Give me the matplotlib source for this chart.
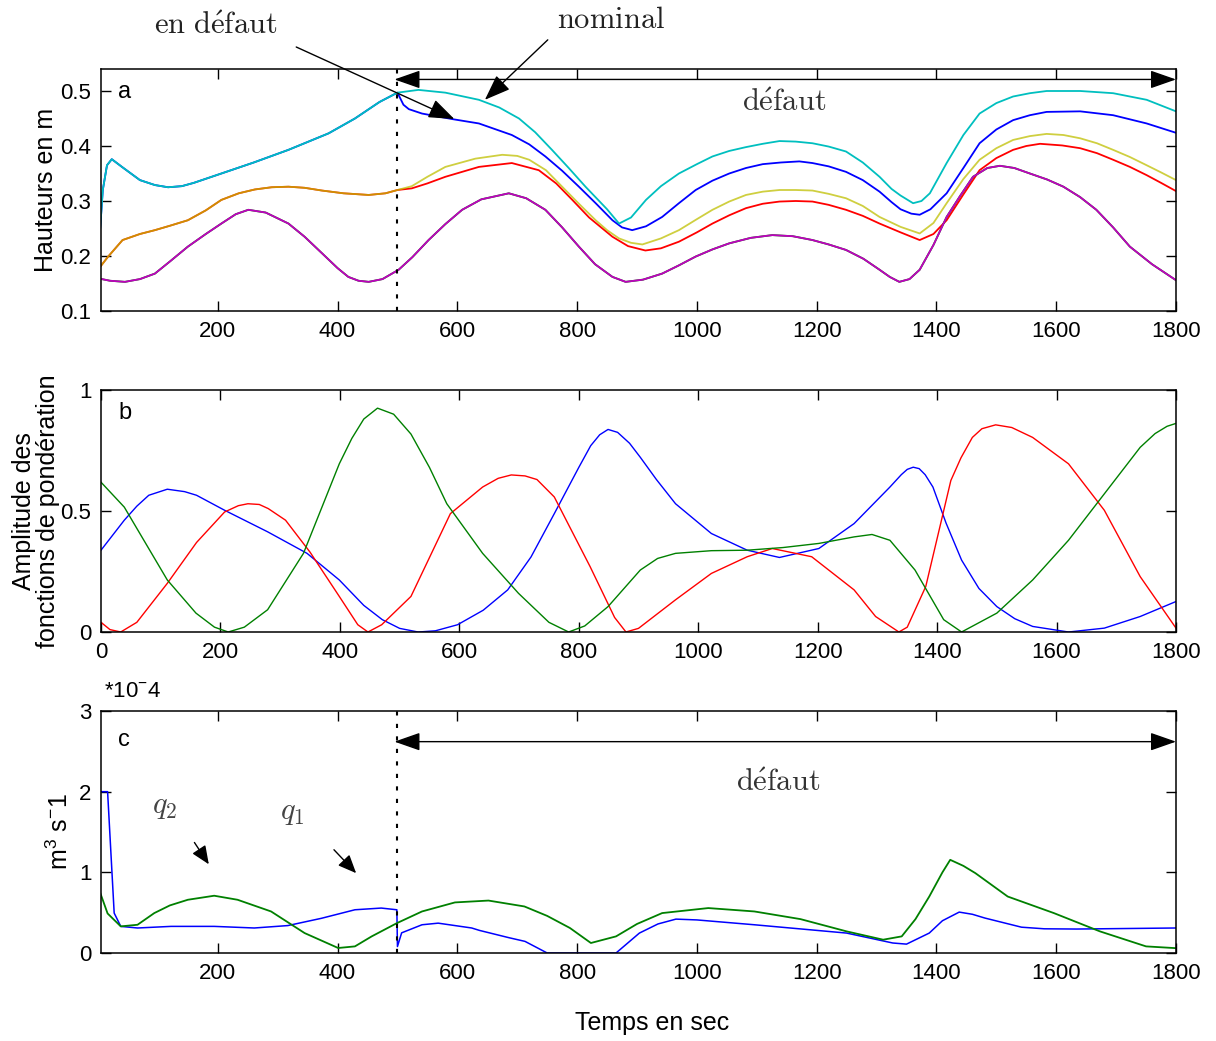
import matplotlib
matplotlib.use("Agg")
import matplotlib.pyplot as plt

plt.rcParams['font.family'] = ['Liberation Sans', 'DejaVu Sans']
plt.rcParams['mathtext.fontset'] = 'custom'
plt.rcParams['mathtext.rm'] = 'Liberation Sans'
plt.rcParams['mathtext.it'] = 'Liberation Sans:italic'

# ---- panel a : tank levels (m) ----
# common part (identical before the fault at t=500)
t_h1_pre = [2, 8, 15, 23, 40, 70, 95, 117, 140, 160, 206, 260, 318, 385, 429, 470, 500]
h1_pre = [0.225, 0.32, 0.365, 0.376, 0.362, 0.338, 0.329, 0.325, 0.327, 0.333, 0.350,
          0.370, 0.393, 0.423, 0.450, 0.480, 0.497]
t_h1_nom = [500, 535, 580, 636, 670, 703, 730, 758, 786, 814, 850, 870, 890, 915, 940,
            970, 1000, 1026, 1054, 1082, 1110, 1138, 1165, 1193, 1220, 1249, 1277, 1305,
            1325, 1340, 1361, 1375, 1389, 1417, 1445, 1472, 1500, 1528, 1556, 1584, 1640,
            1695, 1751, 1800]
h1_nom = [0.497, 0.502, 0.497, 0.484, 0.470, 0.450, 0.425, 0.393, 0.360, 0.326, 0.285,
          0.259, 0.270, 0.302, 0.327, 0.350, 0.367, 0.381, 0.391, 0.398, 0.404, 0.409,
          0.408, 0.405, 0.399, 0.390, 0.370, 0.344, 0.322, 0.310, 0.296, 0.300, 0.314,
          0.369, 0.420, 0.459, 0.478, 0.490, 0.496, 0.500, 0.500, 0.496, 0.484, 0.463]
t_h1_def = [500, 510, 519, 541, 591, 636, 691, 720, 747, 775, 803, 831, 859, 875, 892,
            915, 942, 970, 998, 1026, 1054, 1082, 1110, 1140, 1171, 1193, 1220, 1249,
            1277, 1305, 1325, 1340, 1358, 1372, 1390, 1417, 1445, 1472, 1500, 1528, 1556,
            1584, 1640, 1695, 1751, 1800]
h1_def = [0.497, 0.475, 0.467, 0.459, 0.449, 0.441, 0.420, 0.403, 0.381, 0.355, 0.326,
          0.296, 0.265, 0.252, 0.247, 0.254, 0.271, 0.296, 0.320, 0.337, 0.350, 0.360,
          0.367, 0.370, 0.372, 0.369, 0.363, 0.353, 0.338, 0.317, 0.298, 0.285, 0.277,
          0.275, 0.285, 0.314, 0.360, 0.405, 0.430, 0.447, 0.456, 0.462, 0.463, 0.456,
          0.441, 0.424]

t_h2_pre = [2, 17, 41, 70, 95, 120, 150, 180, 206, 235, 262, 290, 318, 345, 374, 410,
            452, 480, 500]
h2_pre = [0.178, 0.199, 0.229, 0.240, 0.247, 0.255, 0.265, 0.283, 0.302, 0.314, 0.321,
          0.325, 0.326, 0.324, 0.319, 0.314, 0.311, 0.314, 0.320]
t_h2_nom = [500, 524, 550, 580, 630, 675, 700, 720, 748, 775, 803, 831, 850, 870, 890,
            909, 940, 970, 1000, 1026, 1054, 1082, 1110, 1138, 1165, 1193, 1220, 1249,
            1277, 1305, 1340, 1372, 1395, 1417, 1445, 1472, 1500, 1528, 1556, 1584, 1612,
            1640, 1668, 1695, 1723, 1751, 1775, 1800]
h2_nom = [0.320, 0.327, 0.344, 0.362, 0.377, 0.384, 0.382, 0.375, 0.356, 0.326, 0.295,
          0.265, 0.247, 0.232, 0.224, 0.221, 0.232, 0.247, 0.267, 0.284, 0.299, 0.311,
          0.317, 0.320, 0.320, 0.319, 0.313, 0.305, 0.291, 0.271, 0.253, 0.241, 0.260,
          0.296, 0.340, 0.375, 0.396, 0.411, 0.418, 0.422, 0.420, 0.414, 0.405, 0.393,
          0.380, 0.365, 0.352, 0.338]
t_h2_def = [500, 524, 550, 580, 636, 691, 736, 765, 792, 820, 859, 885, 914, 940, 970,
            1000, 1026, 1054, 1082, 1110, 1138, 1165, 1193, 1220, 1249, 1277, 1305, 1340,
            1372, 1395, 1417, 1445, 1472, 1500, 1528, 1550, 1573, 1610, 1640, 1668, 1695,
            1723, 1751, 1775, 1800]
h2_def = [0.320, 0.323, 0.332, 0.344, 0.362, 0.369, 0.356, 0.332, 0.302, 0.270, 0.235,
          0.218, 0.210, 0.214, 0.226, 0.243, 0.259, 0.274, 0.287, 0.295, 0.299, 0.300,
          0.299, 0.293, 0.284, 0.273, 0.259, 0.243, 0.229, 0.240, 0.265, 0.312, 0.356,
          0.378, 0.393, 0.400, 0.404, 0.401, 0.396, 0.387, 0.375, 0.362, 0.347, 0.333,
          0.318]

t_h3 = [2, 20, 45, 70, 95, 120, 150, 180, 206, 230, 251, 280, 318, 345, 374, 400, 418,
        435, 452, 475, 502, 525, 552, 580, 608, 640, 686, 715, 747, 775, 803, 830, 859,
        881, 910, 942, 970, 998, 1026, 1054, 1090, 1126, 1160, 1193, 1220, 1249, 1278,
        1305, 1322, 1338, 1355, 1372, 1395, 1417, 1440, 1461, 1485, 1506, 1530, 1556,
        1585, 1612, 1640, 1667, 1695, 1723, 1760, 1800]
h3 = [0.159, 0.155, 0.153, 0.158, 0.168, 0.190, 0.217, 0.240, 0.259, 0.276, 0.284,
      0.279, 0.259, 0.235, 0.205, 0.178, 0.162, 0.155, 0.153, 0.158, 0.175, 0.198, 0.229,
      0.258, 0.284, 0.303, 0.314, 0.305, 0.284, 0.252, 0.217, 0.185, 0.162, 0.153, 0.157,
      0.168, 0.183, 0.199, 0.212, 0.223, 0.233, 0.238, 0.236, 0.229, 0.221, 0.211, 0.195,
      0.175, 0.162, 0.153, 0.158, 0.175, 0.220, 0.271, 0.310, 0.344, 0.360, 0.364, 0.360,
      0.350, 0.339, 0.326, 0.307, 0.284, 0.252, 0.217, 0.185, 0.156]

# ---- panel b : weighting functions ----
t_w_blue = [0, 39, 60, 80, 111, 140, 160, 207, 279, 345, 399, 440, 471, 500, 531, 560,
            597, 640, 681, 720, 759, 800, 820, 835, 849, 865, 885, 903, 930, 962, 1022,
            1082, 1136, 1202, 1261, 1321, 1340, 1350, 1360, 1370, 1380, 1393, 1415, 1441,
            1470, 1500, 1530, 1560, 1620, 1680, 1740, 1800]
w_blue = [0.338, 0.462, 0.52, 0.565, 0.590, 0.58, 0.565, 0.503, 0.414, 0.325, 0.215,
          0.11, 0.051, 0.015, 0.0, 0.005, 0.03, 0.09, 0.174, 0.31, 0.489, 0.68, 0.77,
          0.815, 0.837, 0.825, 0.78, 0.722, 0.63, 0.530, 0.407, 0.338, 0.308, 0.345,
          0.448, 0.599, 0.65, 0.672, 0.681, 0.675, 0.65, 0.599, 0.45, 0.297, 0.18, 0.105,
          0.055, 0.023, 0.0, 0.016, 0.064, 0.126]
t_w_red = [0, 15, 33, 60, 111, 160, 207, 230, 246, 265, 280, 309, 350, 399, 430, 447,
           470, 519, 585, 639, 665, 687, 710, 730, 759, 819, 860, 879, 900, 962, 1022,
           1082, 1124, 1190, 1261, 1297, 1336, 1350, 1381, 1423, 1440, 1459, 1475, 1498,
           1525, 1560, 1620, 1680, 1740, 1800]
w_red = [0.04, 0.01, 0.0, 0.04, 0.201, 0.37, 0.496, 0.522, 0.530, 0.527, 0.51, 0.462,
         0.33, 0.147, 0.03, 0.0, 0.03, 0.147, 0.489, 0.599, 0.635, 0.649, 0.645, 0.63,
         0.558, 0.270, 0.06, 0.0, 0.015, 0.133, 0.242, 0.311, 0.345, 0.311, 0.174, 0.064,
         0.0, 0.02, 0.188, 0.626, 0.72, 0.804, 0.84, 0.856, 0.845, 0.804, 0.695, 0.503,
         0.229, 0.016]
t_w_green = [0, 39, 111, 159, 190, 213, 240, 279, 339, 399, 420, 440, 463, 490, 519,
             550, 579, 639, 699, 750, 783, 810, 849, 903, 932, 962, 1022, 1082, 1142, 1202,
             1261, 1291, 1321, 1363, 1411, 1441, 1500, 1560, 1620, 1680, 1740, 1765, 1785,
             1800]
w_green = [0.619, 0.516, 0.215, 0.078, 0.02, 0.0, 0.02, 0.092, 0.325, 0.695, 0.80,
           0.88, 0.925, 0.9, 0.818, 0.68, 0.530, 0.325, 0.160, 0.04, 0.0, 0.025, 0.105,
           0.256, 0.304, 0.325, 0.336, 0.338, 0.349, 0.366, 0.393, 0.403, 0.379, 0.256,
           0.051, 0.0, 0.078, 0.215, 0.379, 0.571, 0.763, 0.82, 0.85, 0.862]

# ---- panel c : flows (x 1e-4 m3/s) ----
t_q1 = [3, 16, 27, 38, 66, 122, 194, 261, 317, 373, 429, 473, 499, 500, 507, 541, 568,
        624, 637, 686, 713, 750, 865, 904, 935, 965, 1000, 1096, 1250, 1327, 1350,
        1388, 1410, 1438, 1460, 1481, 1542, 1580, 1634, 1800]
q1 = [2.0, 2.0, 0.495, 0.33, 0.31, 0.33, 0.33, 0.31, 0.34, 0.43, 0.536, 0.557, 0.536,
      0.08, 0.25, 0.35, 0.37, 0.31, 0.28, 0.19, 0.144, 0.0, 0.0, 0.247, 0.36, 0.42,
      0.41, 0.35, 0.247, 0.124, 0.11, 0.247, 0.40, 0.507, 0.48, 0.433, 0.32, 0.30,
      0.297, 0.31]
t_q2 = [3, 16, 38, 66, 94, 120, 150, 194, 233, 289, 345, 401, 429, 457, 499, 541, 596,
        652, 712, 750, 788, 823, 865, 900, 942, 1019, 1096, 1173, 1250, 1311, 1342, 1365,
        1388, 1410, 1423, 1445, 1465, 1519, 1596, 1673, 1750, 1800]
q2 = [0.76, 0.49, 0.33, 0.35, 0.495, 0.59, 0.66, 0.71, 0.66, 0.515, 0.247, 0.062,
      0.082, 0.206, 0.37, 0.515, 0.627, 0.65, 0.577, 0.46, 0.31, 0.124, 0.206, 0.36,
      0.495, 0.557, 0.515, 0.42, 0.268, 0.165, 0.206, 0.42, 0.70, 1.0, 1.155, 1.08, 0.99,
      0.70, 0.495, 0.268, 0.082, 0.06]

t_fault = 500
ticks_ac = [200, 400, 600, 800, 1000, 1200, 1400, 1600, 1800]
ticks_b = [0] + ticks_ac

C_CYAN = (0, 0.75, 0.75)
C_YEL = (0.75, 0.75, 0)
C_MAG = (0.75, 0, 0.75)
C_GRN = (0, 0.5, 0)

fig = plt.figure(figsize=(12.16, 10.41), dpi=100)
W, H = 1216.0, 1041.0
left, width = 101 / W, 1075 / W
ax_a = fig.add_axes([left, (H - 311) / H, width, 242 / H])
ax_b = fig.add_axes([left, (H - 632) / H, width, 242 / H])
ax_c = fig.add_axes([left, (H - 953) / H, width, 242 / H])

FS_TICK = 16
FS_LAB = 18
FS_SERIF = 22

for ax in (ax_a, ax_b, ax_c):
    ax.tick_params(direction='in', top=True, right=True, length=7, width=1,
                   labelsize=FS_TICK, pad=7)
    for s in ax.spines.values():
        s.set_linewidth(1.1)

arrow_head = dict(arrowstyle='<|-|>,head_length=0.8,head_width=0.28', color='k',
                  lw=1.0, shrinkA=0, shrinkB=0, mutation_scale=20)
serif = dict(math_fontfamily='cm')

# panel a
ax = ax_a
ax.plot(t_h1_pre + t_h1_def, h1_pre + h1_def, color='b', lw=1.3)
ax.plot(t_h2_pre + t_h2_def, h2_pre + h2_def, color='r', lw=1.3)
ax.plot(t_h3, h3, color=C_GRN, lw=1.3)
ax.plot(t_h1_pre + t_h1_nom, h1_pre + h1_nom, color=C_CYAN, lw=1.3)
ax.plot(t_h2_pre + t_h2_nom, h2_pre + h2_nom, color=C_YEL, lw=1.3, alpha=0.75)
ax.plot(t_h3, h3, color=C_MAG, lw=1.3)
ax.axvline(t_fault, color='k', ls=(0, (2, 4)), lw=1.5)
ax.set_xlim(5, 1800)
ax.set_ylim(0.1, 0.54)
ax.set_xticks(ticks_ac)
ax.set_yticks([0.1, 0.2, 0.3, 0.4, 0.5])
ax.set_ylabel('Hauteurs en m', fontsize=FS_LAB)
ax.yaxis.set_label_coords(-0.040, 0.5)
ax.text(0.016, 0.905, 'a', transform=ax.transAxes, fontsize=17, va='center')
ax.annotate('', xy=(t_fault - 5, 0.521), xytext=(1800, 0.521), arrowprops=arrow_head)
ax.text(1145, 0.478, r'$\mathrm{d\acute{e}faut}$', fontsize=FS_SERIF, color='#333333',
        ha='center', va='center', **serif)
ax.annotate('', xy=(595, 0.449), xytext=(331, 0.58), annotation_clip=False,
            arrowprops=dict(arrowstyle='-|>,head_length=0.8,head_width=0.3', color='k',
                            lw=1.0, shrinkA=0, shrinkB=0, mutation_scale=20))
ax.annotate('', xy=(646, 0.484), xytext=(751, 0.593), annotation_clip=False,
            arrowprops=dict(arrowstyle='-|>,head_length=0.8,head_width=0.3', color='k',
                            lw=1.0, shrinkA=0, shrinkB=0, mutation_scale=20))
ax.text(196, 0.618, r'$\mathrm{en\ d\acute{e}faut}$', fontsize=FS_SERIF, color='#222222',
        ha='center', va='center', clip_on=False, **serif)
ax.text(856, 0.63, r'$\mathrm{nominal}$', fontsize=FS_SERIF, color='#222222',
        ha='center', va='center', clip_on=False, **serif)

# panel b
ax = ax_b
ax.plot(t_w_blue, w_blue, color='b', lw=1.0)
ax.plot(t_w_red, w_red, color='r', lw=1.0)
ax.plot(t_w_green, w_green, color=C_GRN, lw=1.0)
ax.set_xlim(0, 1800)
ax.set_ylim(0, 1)
ax.set_xticks(ticks_b)
ax.set_yticks([0, 0.5, 1])
ax.set_yticklabels(['0', '0.5', '1'])
ax.set_ylabel('Amplitude des\nfonctions de pondération', fontsize=FS_LAB,
              linespacing=1.0)
ax.yaxis.set_label_coords(-0.038, 0.5)
ax.text(0.016, 0.905, 'b', transform=ax.transAxes, fontsize=17, va='center')

# panel c
ax = ax_c
ax.plot(t_q1, q1, color='b', lw=1.1)
ax.plot(t_q2, q2, color=C_GRN, lw=1.3)
ax.axvline(t_fault, color='k', ls=(0, (2, 4)), lw=1.5)
ax.set_xlim(5, 1800)
ax.set_ylim(0, 3)
ax.set_xticks(ticks_ac)
ax.set_yticks([0, 1, 2, 3])
ax.set_ylabel(r'm$^3$ s$^{-}$1', fontsize=FS_LAB)
ax.yaxis.set_label_coords(-0.026, 0.5)
ax.text(0.016, 0.88, 'c', transform=ax.transAxes, fontsize=17, va='center')
ax.annotate('', xy=(t_fault - 5, 2.62), xytext=(1800, 2.62), arrowprops=arrow_head)
ax.text(1135, 2.11, r'$\mathrm{d\acute{e}faut}$', fontsize=FS_SERIF, color='#333333',
        ha='center', va='center', **serif)
ax.text(111, 1.82, r'$q_2$', fontsize=FS_SERIF, color='#444444', ha='center',
        va='center', **serif)
ax.text(325, 1.75, r'$q_1$', fontsize=FS_SERIF, color='#444444', ha='center',
        va='center', **serif)
small = dict(arrowstyle='-|>,head_length=0.7,head_width=0.3', color='k', lw=1.0,
             shrinkA=0, shrinkB=0, mutation_scale=16)
ax.annotate('', xy=(185, 1.10), xytext=(161, 1.37), arrowprops=small)
ax.annotate('', xy=(431, 0.99), xytext=(394, 1.28), arrowprops=small)

fig.text(104 / W, 1 - 697 / H, r'*10$^{-}$4', fontsize=FS_TICK, ha='left', va='baseline')
fig.text(652 / W, 1 - 1023 / H, 'Temps en sec', fontsize=FS_LAB, ha='center',
         va='center')

fig.savefig('out.png', dpi=100)
